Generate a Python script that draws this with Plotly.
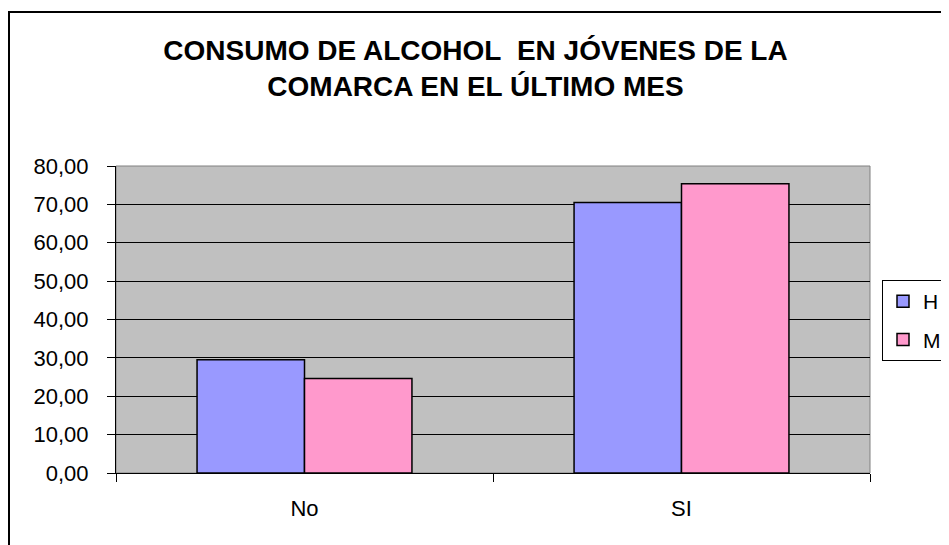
import plotly.graph_objects as go

categories = ["No", "SI"]
h_values = [29.5, 70.5]
m_values = [24.6, 75.4]
series_names = ["H", "M"]
title_text = "CONSUMO DE ALCOHOL\u00a0 EN JÓVENES DE LA<br>COMARCA EN EL ÚLTIMO MES"

# page body has an 8px margin; compensate so the screenshot lines up
OFF = 8
W, H = 949 - OFF, 545 - OFF
L, R, T, B = 116 - OFF, 79, 166 - OFF, 72
pw = W - L - R
ph = H - T - B

fig = go.Figure()
fig.add_trace(go.Bar(x=categories, y=h_values, name=series_names[0],
                     marker=dict(color="#9999FF", line=dict(color="black", width=1.5)),
                     legendgroup="h"))
fig.add_trace(go.Bar(x=categories, y=m_values, name=series_names[1],
                     marker=dict(color="#FF99CC", line=dict(color="black", width=1.5)),
                     legendgroup="m"))

def px_x(p):
    # p: screenshot pixel
    return (p - OFF - L) / pw

def px_y(p):
    return (H + OFF - B - p) / ph

FONT = "Liberation Sans, Arial, sans-serif"

fig.update_layout(
    width=W, height=H,
    margin=dict(l=L, r=R, t=T, b=B, autoexpand=False),
    paper_bgcolor="white",
    plot_bgcolor="#C0C0C0",
    separators=",.",
    barmode="group",
    bargap=0.43,
    bargroupgap=0,
    font=dict(family=FONT, color="black", size=22),
    title=dict(text=title_text, x=(475.5 - OFF) / W, xanchor="center", xref="container",
               y=1 - (60 - OFF) / H, yanchor="middle", yref="container",
               font=dict(size=28, family=FONT, color="black", weight="bold")),
    showlegend=True,
    legend=dict(x=px_x(882), y=px_y(280), xanchor="left", yanchor="top",
                bordercolor="black", borderwidth=1, bgcolor="white",
                traceorder="grouped", tracegroupgap=8, itemwidth=30,
                font=dict(size=21)),
    xaxis=dict(type="category", showgrid=False, showline=True, linecolor="black",
               linewidth=1, ticks="outside", tickson="boundaries", ticklen=8,
               tickcolor="black", ticklabelstandoff=16, zeroline=False),
    yaxis=dict(range=[0, 80], dtick=10, tickformat=".2f", showgrid=True,
               gridcolor="black", gridwidth=1, showline=True, linecolor="black",
               linewidth=1, ticks="outside", ticklen=8, tickcolor="black",
               ticklabelstandoff=14, zeroline=False),
    shapes=[
        dict(type="rect", xref="paper", yref="paper", x0=0, x1=1, y0=0, y1=1,
             line=dict(color="#808080", width=1), layer="below"),
        dict(type="rect", xref="paper", yref="paper", x0=px_x(9), x1=px_x(965),
             y0=px_y(570), y1=px_y(12), line=dict(color="black", width=2)),
    ],
)

fig.write_html("out.html")
